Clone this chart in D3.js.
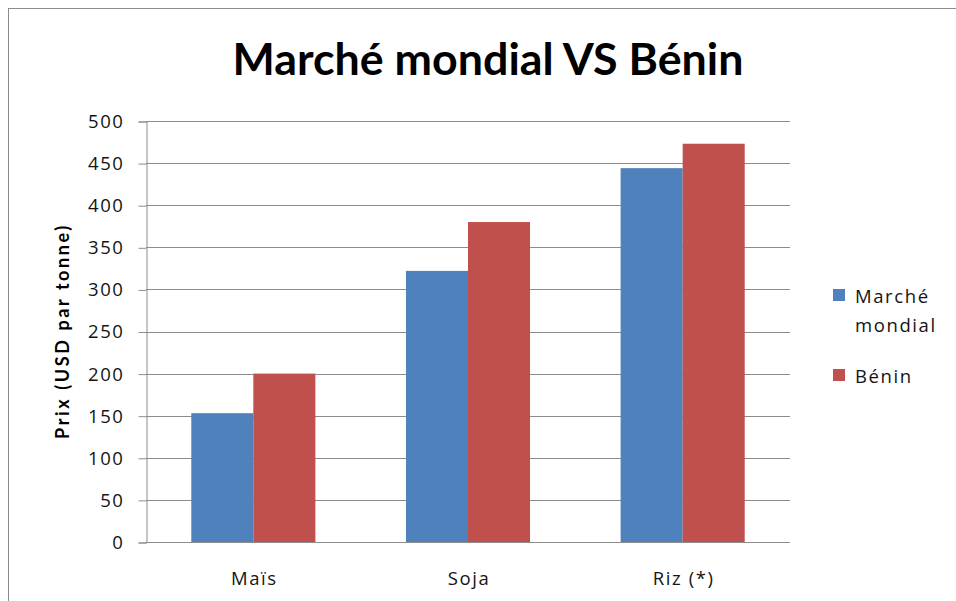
<!DOCTYPE html>
<html>
<head>
<meta charset="utf-8">
<script src="https://cdn.jsdelivr.net/npm/d3@7"></script>
<style>
  body { margin: 0; background: #fff; }
  text { font-family: Lato, "Open Sans", sans-serif; }
  .lbl { font-family: "Open Sans", Lato, sans-serif; font-size: 18.5px; letter-spacing: 1.6px; fill: #141414; }
</style>
</head>
<body>
<svg id="chart" width="956" height="601"></svg>
<script>
// chart data
const categories = ['Maïs', 'Soja', 'Riz (*)'];
const seriesNames = ['Marché mondial', 'Bénin'];
const mondial = [153, 322, 444];
const benin = [200, 380, 473];
const yTicks = [0, 50, 100, 150, 200, 250, 300, 350, 400, 450, 500];
const colors = ['#4F81BD', '#C0504D'];

const svg = d3.select('#chart');

// outer frame
svg.append('rect')
  .attr('x', 8.5).attr('y', 8.5)
  .attr('width', 1000).attr('height', 700)
  .attr('fill', 'none').attr('stroke', '#8c8c8c');

const plot = { left: 146, right: 790, top: 121, bottom: 542 };

const x = d3.scaleBand()
  .domain(categories)
  .range([plot.left, plot.right]);

const xInner = d3.scaleBand()
  .domain(seriesNames)
  .range([0, x.bandwidth()])
  .paddingOuter(0.73);

const y = d3.scaleLinear()
  .domain([0, 500])
  .range([plot.bottom, plot.top]);

// grid
svg.append('g').selectAll('line')
  .data(yTicks)
  .join('line')
  .attr('x1', plot.left).attr('x2', plot.right)
  .attr('y1', d => Math.round(y(d)) + 0.5).attr('y2', d => Math.round(y(d)) + 0.5)
  .attr('stroke', '#8c8c8c').attr('stroke-width', 1.2);

// y axis
const yAxis = svg.append('g')
  .attr('transform', `translate(${plot.left + 0.5},0.5)`)
  .call(d3.axisLeft(y).tickValues(yTicks).tickSize(8).tickPadding(14));
yAxis.select('.domain').attr('stroke', '#8c8c8c');
yAxis.selectAll('.tick line').attr('stroke', '#8c8c8c');
yAxis.selectAll('.tick text')
  .attr('class', 'lbl')
  .attr('font-family', null).attr('font-size', null);

// bars
const rows = categories.map((c, i) => ({ cat: c, vals: [mondial[i], benin[i]] }));
const groups = svg.append('g').selectAll('g')
  .data(rows)
  .join('g')
  .attr('transform', d => `translate(${x(d.cat)},0)`);

groups.selectAll('rect')
  .data(d => d.vals.map((v, k) => ({ name: seriesNames[k], v, k })))
  .join('rect')
  .attr('x', d => xInner(d.name))
  .attr('width', xInner.bandwidth())
  .attr('y', d => y(d.v))
  .attr('height', d => y(0) - y(d.v))
  .attr('fill', d => colors[d.k]);

// x axis line
svg.append('line')
  .attr('x1', plot.left).attr('x2', plot.right)
  .attr('y1', plot.bottom + 0.5).attr('y2', plot.bottom + 0.5)
  .attr('stroke', '#8c8c8c').attr('stroke-width', 1.2);

svg.append('g').selectAll('text')
  .data(categories)
  .join('text')
  .attr('class', 'lbl')
  .attr('x', d => x(d) + x.bandwidth() / 2 + 1)
  .attr('y', 585)
  .attr('text-anchor', 'middle')
  .text(d => d);

// y label
svg.append('text')
  .attr('transform', 'translate(69,331) rotate(-90)')
  .attr('text-anchor', 'middle')
  .attr('font-family', '"Open Sans", Lato, sans-serif')
  .attr('font-size', 18).attr('font-weight', 'bold')
  .attr('letter-spacing', 2.6)
  .text('Prix (USD par tonne)');

// title
const title = svg.append('text')
  .attr('x', 488).attr('y', 75)
  .attr('text-anchor', 'middle')
  .attr('font-size', 40).attr('font-weight', 'bold')
  .text('Marché mondial VS Bénin');
const tw = title.node().getComputedTextLength();
title.attr('font-size', 40 * 511 / tw);

// legend
const legend = svg.append('g');
legend.append('rect').attr('x', 833).attr('y', 289).attr('width', 12).attr('height', 12).attr('fill', colors[0]);
legend.append('text').attr('class', 'lbl').attr('x', 855).attr('y', 303).text('Marché');
legend.append('text').attr('class', 'lbl').attr('x', 855).attr('y', 332).text('mondial');
legend.append('rect').attr('x', 833).attr('y', 369).attr('width', 12).attr('height', 12).attr('fill', colors[1]);
legend.append('text').attr('class', 'lbl').attr('x', 855).attr('y', 383).text('Bénin');
</script>
</body>
</html>
